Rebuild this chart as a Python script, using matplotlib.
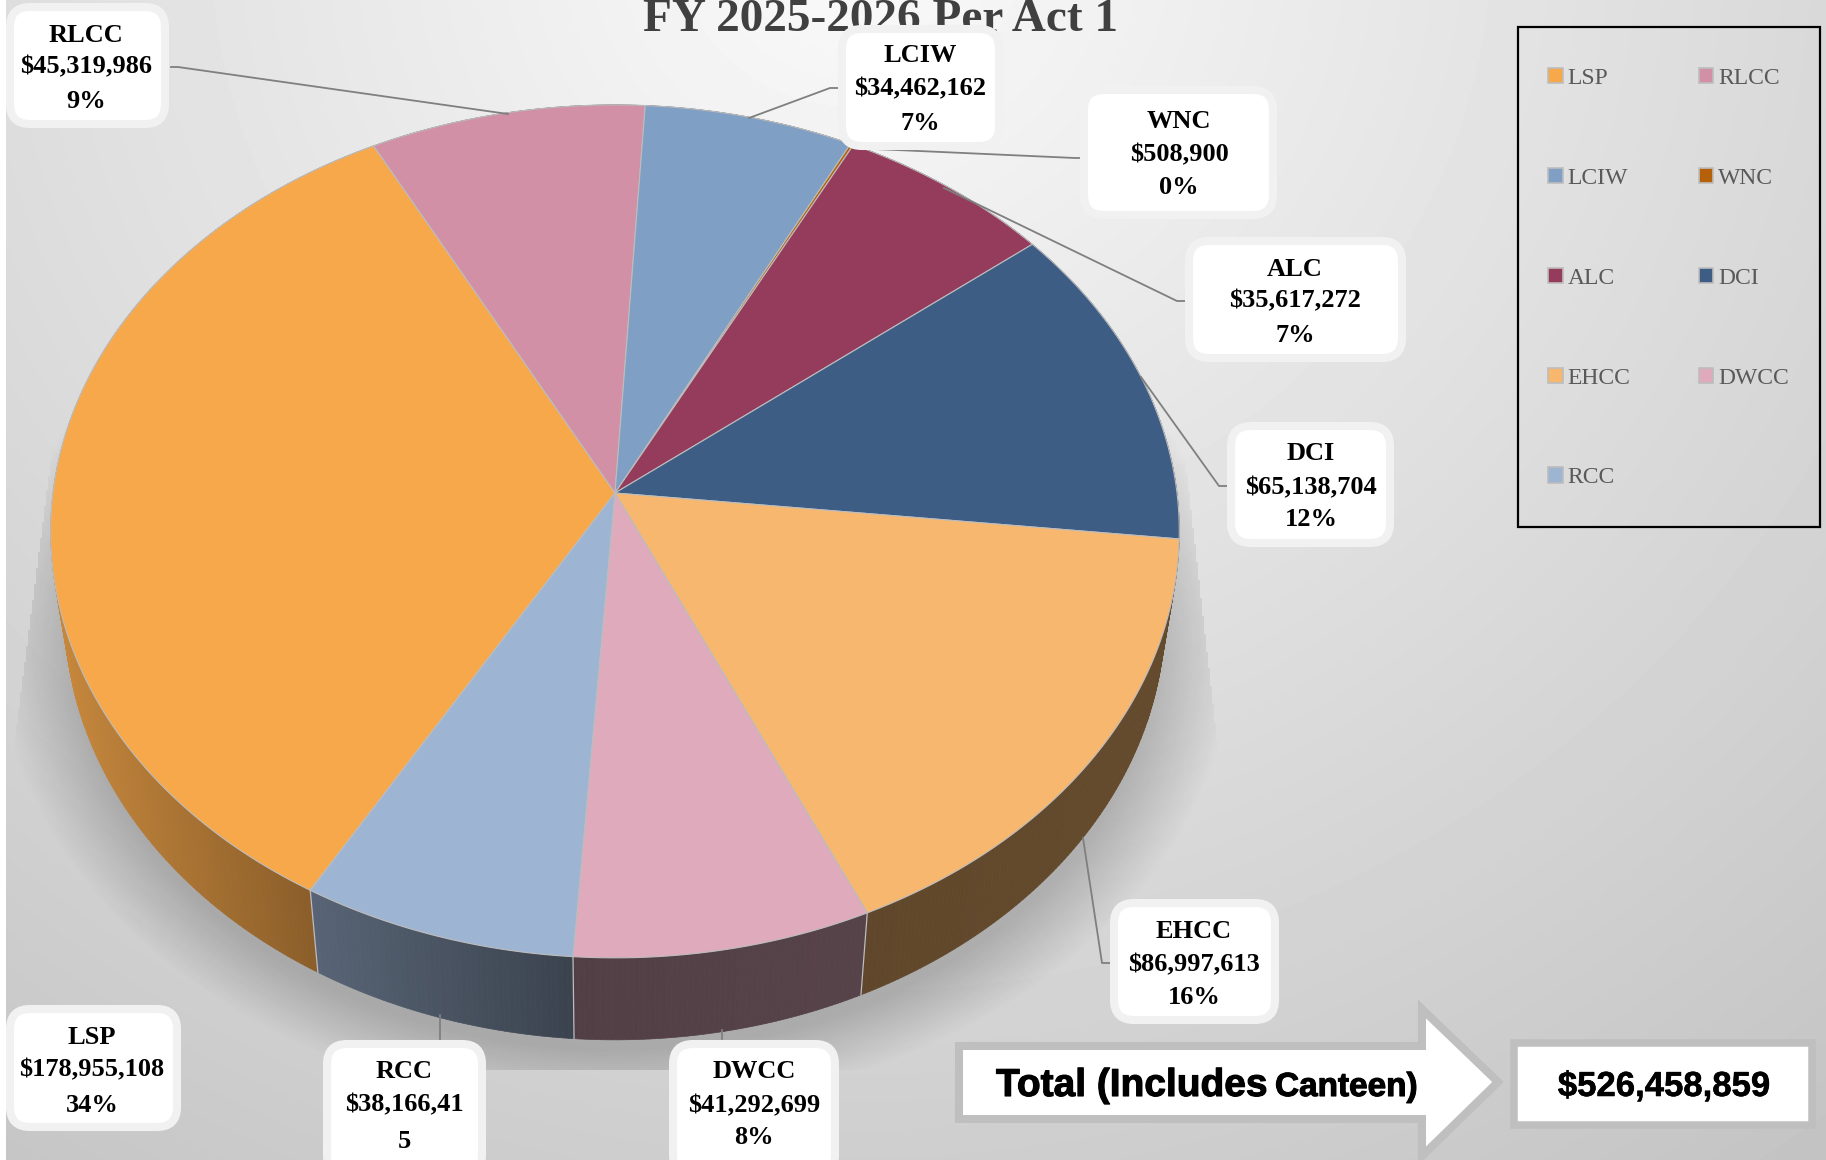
import numpy as np
import matplotlib
matplotlib.use('Agg')
from matplotlib import pyplot as plt
from matplotlib import patheffects
from matplotlib.collections import PolyCollection
from matplotlib.patches import FancyBboxPatch, Patch, Polygon, Rectangle

# Chart data
names = ['LSP', 'RLCC', 'LCIW', 'WNC', 'ALC', 'DCI', 'EHCC', 'DWCC', 'RCC']
values = [178955108, 45319986, 34462162, 508900, 35617272, 65138704, 86997613, 41292699, 38166415]
pct_labels = ['34%', '9%', '7%', '0%', '7%', '12%', '16%', '8%', '']
colors = ['#F7A84A', '#D190A6', '#7F9FC4', '#B5610A', '#953C5C', '#3D5D85', '#F7B76E', '#DEAABC', '#9EB4D3']
total_text = '$526,458,859'
title_text = 'FY 2025-2026 Per Act 1'

# Layout, in pixels of the 1826x1160 picture
cx, cy, rx, ry = 615, 493, 562, 423
tilt = 0.09
start_deg = -150.0
depth = 82
bottom_scale = 0.975

# name: box (left, top, right, bottom), text x, text line y's, leader points
label_layout = {
    'LSP': ((10, 1009, 177, 1127), 92, (1037, 1070, 1106), None),
    'RLCC': ((10, 7, 165, 124), 86, (35, 67, 102), [(508, 114), (178, 67), (171, 67)]),
    'LCIW': ((842, 29, 999, 146), 920, (56, 89, 123), [(749, 118), (830, 88), (838, 88)]),
    'WNC': ((1084, 90, 1273, 215), 1179, (122, 155, 187), [(852, 148), (1075, 158), (1080, 158)]),
    'ALC': ((1189, 241, 1402, 358), 1295, (269, 301, 335), [(944, 188), (1177, 301), (1185, 301)]),
    'DCI': ((1231, 426, 1390, 543), 1311, (454, 488, 520), [(1141, 377), (1219, 486), (1227, 486)]),
    'EHCC': ((1114, 903, 1275, 1020), 1194, (931, 965, 997), [(1083, 838), (1102, 963), (1110, 963)]),
    'DWCC': ((673, 1044, 835, 1175), 754, (1072, 1106, 1138), [(722, 1030), (722, 1039)]),
    'RCC': ((327, 1044, 482, 1175), 404, (1072, 1105, 1141), [(440, 1015), (440, 1039)]),
}


def project(theta, lower=False):
    # angle in degrees, clockwise from the top of the tilted disc
    t = np.radians(theta)
    x, y = np.sin(t), np.cos(t)
    s = 1 / (1 + tilt * y)
    px = rx * x * s
    py = -ry * y * s
    if lower:
        return cx + px * bottom_scale, cy + py + depth
    return cx + px, cy + py


def wall_shade(px):
    return np.interp(px, [60, 320, 570, 1200], [0.80, 0.55, 0.37, 0.41])


fig = plt.figure(figsize=(18.26, 11.6), dpi=100, facecolor='white')
ax = fig.add_axes([0, 0, 1, 1])

# Background gradient
xx, yy = np.meshgrid(np.arange(6, 1826, 2), np.arange(0, 1160, 2))
bg = 250 - 0.036 * np.hypot((xx - 850) * 0.95, (yy + 60))
bg = np.clip(bg, 194, 250)
ax.imshow(bg, cmap='gray', vmin=0, vmax=255, extent=(6, 1826, 1160, 0), aspect='auto', zorder=0)

# Soft shadow under the pie
d = np.hypot((xx - 615) / 620, (yy - 640) / 470)
shadow = 0.19 * np.clip((1 - d) / 0.13, 0, 1)
left_edge = 55 - (yy - 420) * 40 / 310
right_edge = 1180 + (yy - 420) * 35 / 310
shadow[(xx < left_edge) | (xx > right_edge) | (yy < 420) | (yy > 1069)] = 0
rgba = np.zeros(xx.shape + (4,))
rgba[..., 3] = shadow
ax.imshow(rgba, extent=(6, 1826, 1160, 0), aspect='auto', zorder=1)

# Slices: side wall first, then the top
angles = start_deg + np.cumsum([0] + values) / sum(values) * 360
for i, name in enumerate(names):
    thetas = np.linspace(angles[i], angles[i + 1], max(int((angles[i + 1] - angles[i]) * 2), 2))
    tx, ty = project(thetas)
    bx, by = project(thetas, lower=True)
    quads = [[(tx[j], ty[j]), (tx[j + 1], ty[j + 1]), (bx[j + 1], by[j + 1]), (bx[j], by[j])]
             for j in range(len(thetas) - 1)]
    base = np.array(matplotlib.colors.to_rgb(colors[i]))
    face = [base * wall_shade((tx[j] + tx[j + 1]) / 2) for j in range(len(thetas) - 1)]
    ax.add_collection(PolyCollection(quads, facecolors=face, edgecolors=face, linewidths=0.5, zorder=2))

for i, name in enumerate(names):
    a0 = angles[i]
    tx0, ty0 = project(a0)
    bx0, by0 = project(a0, lower=True)
    if 90 < a0 % 360 < 270:
        ax.plot([tx0, bx0], [ty0, by0], color='#bdbdbd', lw=0.9, zorder=3)

for i, name in enumerate(names):
    thetas = np.linspace(angles[i], angles[i + 1], max(int((angles[i + 1] - angles[i]) * 2), 2))
    tx, ty = project(thetas)
    ax.fill(np.r_[cx, tx], np.r_[cy, ty], facecolor=colors[i], edgecolor='#bdbdbd', lw=0.8, zorder=4)

# Title, cut by the top edge like the reference
ax.text(881, 31, title_text, family='Liberation Serif', weight='bold', fontsize=34, color='#404040',
        ha='center', va='baseline', zorder=5)

# Data labels with leader lines
for name, value, pct in zip(names, values, pct_labels):
    (x0, y0, x1, y1), tx, lines, leader = label_layout[name]
    if leader:
        ax.plot(*zip(*leader), color='#7f7f7f', lw=1.3, zorder=5)
    ax.add_patch(FancyBboxPatch((x0, y0), x1 - x0, y1 - y0, boxstyle='round,pad=0,rounding_size=20',
                                facecolor='white', edgecolor='#f1f1f1', lw=5.8, zorder=6))
    money = f'${value:,}'
    texts = [name, money, pct]
    if name == 'RCC':
        texts = [name, money[:-1], money[-1]]
    for y, s in zip(lines, texts):
        ax.text(tx, y, s, family='Liberation Serif', weight='bold', fontsize=19, color='black',
                ha='center', va='center', zorder=7, clip_on=True)

# Legend in two columns, filled row by row
handles = [Patch(facecolor=c, edgecolor='#bdbdbd', lw=1.2, label=n) for n, c in zip(names, colors)]
order = handles[::2] + handles[1::2]
ax.legend(handles=order, ncol=2, loc='upper left', bbox_to_anchor=(1548, 68), bbox_transform=ax.transData,
          frameon=False, borderpad=0, borderaxespad=0, prop={'family': 'Liberation Serif', 'size': 17},
          labelcolor='#595959', handlelength=0.62, handleheight=0.62, handletextpad=0.2,
          columnspacing=2.9, labelspacing=3.34)
ax.add_patch(Rectangle((1518, 27), 302, 500, fill=False, edgecolor='black', lw=1.6, zorder=5))

# Total arrow and box
heavy = [patheffects.withStroke(linewidth=0.8, foreground='black')]
arrow_pts = [(959, 1046), (1422, 1046), (1422, 1009), (1498, 1082), (1422, 1156), (1422, 1119), (959, 1119)]
ax.add_patch(Polygon(arrow_pts, closed=True, facecolor='white', edgecolor='#bfbfbf', lw=5.8,
                     joinstyle='miter', zorder=5))
ax.text(996, 1096, 'Total (Includes', family='Liberation Sans', weight='bold', fontsize=28, color='black',
        ha='left', va='baseline', zorder=7, path_effects=heavy)
ax.text(1275, 1096, 'Canteen)', family='Liberation Sans', weight='bold', fontsize=24, color='black',
        ha='left', va='baseline', zorder=7, path_effects=heavy)
ax.add_patch(Rectangle((1514, 1043), 298, 82, facecolor='white', edgecolor='#bfbfbf', lw=5.4, zorder=5))
ax.text(1664, 1096, total_text, family='Liberation Sans', weight='bold', fontsize=25, color='black',
        ha='center', va='baseline', zorder=7,
        path_effects=[patheffects.withStroke(linewidth=0.4, foreground='black')])

ax.set_xlim(0, 1826)
ax.set_ylim(1160, 0)
ax.axis('off')

plt.savefig('out.png', dpi=100)
